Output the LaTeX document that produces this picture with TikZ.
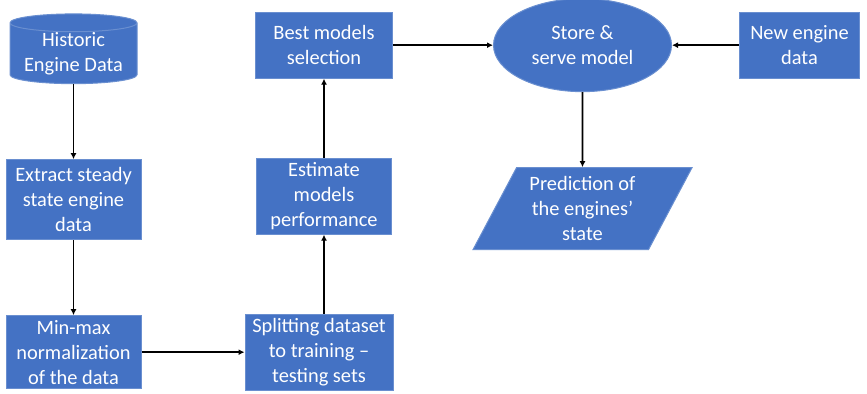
\documentclass[tikz,border=0pt]{standalone}
\usepackage{fontspec}
\setmainfont{Carlito}
\usepackage{xcolor}
\usepackage{tikz}
\usetikzlibrary{shapes.geometric, arrows.meta, positioning}

\definecolor{boxblue}{HTML}{4472C4}
\definecolor{edgeblue}{HTML}{6A8FD0}

\begin{document}
\begin{tikzpicture}[
  box/.style    = {rectangle, draw=edgeblue, line width=0.5pt, fill=boxblue,
                   text=white, align=center, inner sep=1pt,
                   minimum width=67.5pt, minimum height=38pt,
                   font=\fontsize{10.2}{12.5}\selectfont},
  store/.style  = {cylinder, shape border rotate=90, aspect=0.18,
                   draw=edgeblue, line width=0.5pt, fill=boxblue,
                   text=white, align=center, inner sep=0pt,
                   minimum width=63.5pt, minimum height=34.5pt,
                   font=\fontsize{10.2}{12.5}\selectfont},
  serve/.style  = {ellipse, draw=edgeblue, line width=0.5pt, fill=boxblue,
                   text=white, align=center, inner sep=0pt,
                   minimum width=89pt, minimum height=46.5pt,
                   font=\fontsize{10.2}{12.5}\selectfont},
  result/.style = {trapezium, trapezium left angle=62, trapezium right angle=118,
                   draw=edgeblue, line width=0.5pt, fill=boxblue,
                   text=white, align=center, inner sep=1pt,
                   minimum width=87.5pt, minimum height=41pt,
                   font=\fontsize{10.2}{12.5}\selectfont},
  arr/.style    = {-{Latex[length=3pt,width=3pt]}, line width=0.8pt, black},
]
\useasboundingbox (0,0) rectangle (433.5pt,-197pt);

%% -- left column ----------------------------------------------------
\node[store] (hist) at (36.75pt,-26.75pt) {Historic\\Engine Data};
\node[box, below=37.5pt of hist, minimum height=40pt] (extract)
    {Extract steady\\state engine\\data};
\node[box, below=37.5pt of extract, minimum height=36.5pt] (minmax)
    {Min-max\\normalization\\of the data};

%% -- middle column --------------------------------------------------
\node[box, right=51.5pt of minmax, minimum width=74pt] (split)
    {Splitting dataset\\to training --\\testing sets};
\node[box, above=39.5pt of split, xshift=2.5pt] (estimate)
    {Estimate\\models\\performance};
\node[box, above=39.5pt of estimate, minimum width=68.5pt, minimum height=33pt] (best)
    {Best models\\selection};

%% -- right part -----------------------------------------------------
\node[serve, right=50pt of best] (serve) {Store \&\\serve model};
\node[box, right=33.5pt of serve, minimum width=60pt, minimum height=33pt] (newdata)
    {New engine\\data};
\node[result, below=37.5pt of serve] (pred)
    {Prediction of\\the engines'\\state};

%% -- arrows ---------------------------------------------------------
\draw[arr] (hist)     -- (extract);
\draw[arr] (extract)  -- (minmax);
\draw[arr] (minmax)   -- (split);
\draw[arr] (split.north -| estimate) -- (estimate);
\draw[arr] (estimate) -- (best);
\draw[arr] (best)     -- (serve);
\draw[arr] (newdata)  -- (serve);
\draw[arr] (serve)    -- (pred);

\end{tikzpicture}
\end{document}
